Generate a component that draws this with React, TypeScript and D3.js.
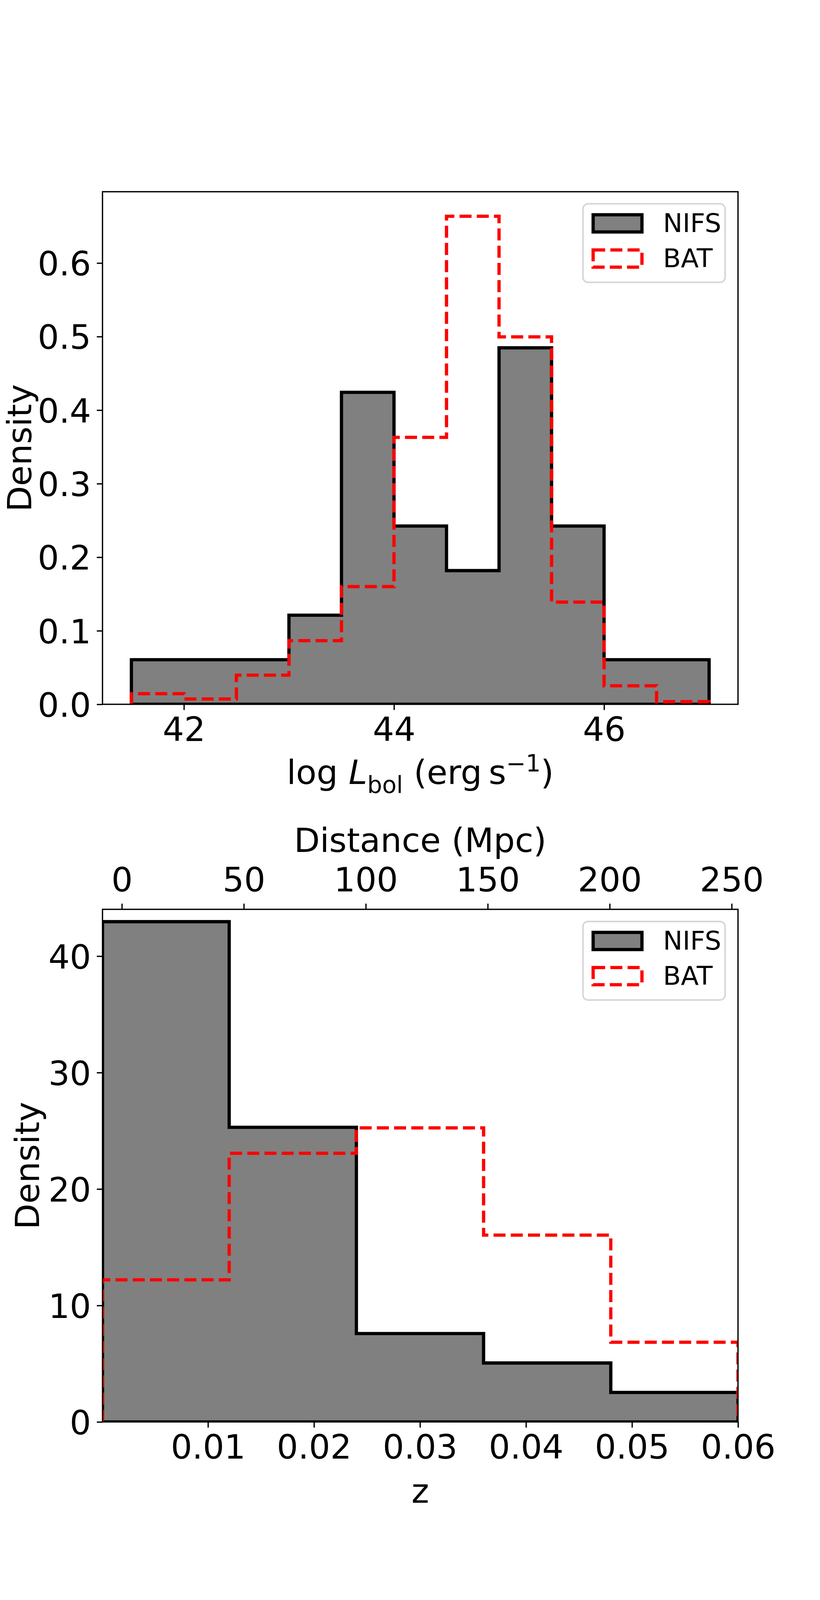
import React, { useEffect, useRef } from 'react';
import * as d3 from 'd3';

// luminosity histogram (bin edges + densities)
const lumBins = [41.5, 42, 42.5, 43, 43.5, 44, 44.5, 45, 45.5, 46, 46.5, 47];
const lumNifs = [0.0606, 0.0606, 0.0606, 0.1212, 0.4242, 0.2424, 0.1818, 0.4848, 0.2424, 0.0606, 0.0606];
const lumBat = [0.0144, 0.0072, 0.0396, 0.0865, 0.16, 0.363, 0.6636, 0.4996, 0.139, 0.0252, 0.0036];
const lumXTicks = [42, 44, 46];
const lumYTicks = [0, 0.1, 0.2, 0.3, 0.4, 0.5, 0.6];
const lumXDomain = [41.225, 47.275];
const lumYDomain = [0, 0.697];

// redshift histogram
const zBins = [0.00005, 0.012, 0.024, 0.036, 0.048, 0.06];
const zNifs = [42.96, 25.3, 7.59, 5.06, 2.53];
const zBat = [12.2, 23.07, 25.25, 16.04, 6.84];
const zXTicks = [0.01, 0.02, 0.03, 0.04, 0.05, 0.06];
const zYTicks = [0, 10, 20, 30, 40];
const zYDomain = [0, 44.02];
const distTicks = [0, 50, 100, 150, 200, 250];
const distDomain = [-7.93, 252.6];

const legendLabels = ['NIFS', 'BAT'];

const W = 2100;
const H = 4500;
// the photo only keeps the top ~4096px, so the vertical layout is squeezed to fit
const K = 4090 / 4500;
const FONT = '"DejaVu Sans", sans-serif';
const FS = 86;
const LEG_FS = 66.7;
const TICK = 14.6;
const LW = 8.33;
const SPINE = 3.33;
const left = 262.5;
const right = 1890;
const panels = [
  { top: 540 * K, bottom: 1983.75 * K },
  { top: 2561.25 * K, bottom: 4005 * K },
];

type Sel = d3.Selection<SVGGElement, unknown, null, undefined>;

function histPath(
  x: d3.ScaleLinear<number, number>,
  y: d3.ScaleLinear<number, number>,
  bins: number[],
  vals: number[],
) {
  const pts: [number, number][] = [[bins[0], 0]];
  vals.forEach((v, i) => pts.push([bins[i], v]));
  pts.push([bins[bins.length - 1], 0]);
  const line = d3
    .line<[number, number]>()
    .x(d => x(d[0]))
    .y(d => y(d[1]))
    .curve(d3.curveStepAfter);
  return line(pts) || '';
}

function styleAxis(ax: Sel, dy: string) {
  ax.attr('font-size', FS).attr('font-family', FONT);
  ax.select('.domain').remove();
  ax.selectAll('line').attr('stroke', '#000').attr('stroke-width', SPINE);
  ax.selectAll('text').attr('fill', '#000').attr('dy', dy);
}

function drawLegend(g: Sel, top: number) {
  const lg = g.append('g');
  lg.append('rect')
    .attr('x', 1493)
    .attr('y', top + 31)
    .attr('width', 364)
    .attr('height', 201)
    .attr('rx', 13)
    .attr('fill', 'white')
    .attr('fill-opacity', 0.8)
    .attr('stroke', '#cccccc')
    .attr('stroke-opacity', 0.8)
    .attr('stroke-width', 4);

  legendLabels.forEach((label, i) => {
    const ry = top + 59 + i * 90;
    const r = lg.append('rect')
      .attr('x', 1519)
      .attr('y', ry)
      .attr('width', 125)
      .attr('height', 44)
      .attr('stroke-width', LW)
      .attr('stroke-linejoin', 'miter');
    if (i === 0) {
      r.attr('fill', '#808080').attr('stroke', '#000');
    } else {
      r.attr('fill', 'none').attr('stroke', '#ff0000').attr('stroke-dasharray', '30.8,13.3');
    }
    lg.append('text')
      .attr('x', 1698)
      .attr('y', ry + 44)
      .attr('font-size', LEG_FS)
      .attr('font-family', FONT)
      .attr('fill', '#000')
      .text(label);
  });
}

export default function App() {
  const svgRef = useRef<SVGSVGElement>(null);

  useEffect(() => {
    document.body.style.margin = '0';
    const svg = d3.select(svgRef.current);
    svg.selectAll('*').remove();

    const root = svg.append('g') as unknown as Sel;

    // ---------- top panel: luminosity ----------
    {
      const p = panels[0];
      const x = d3.scaleLinear().domain(lumXDomain).range([left, right]);
      const y = d3.scaleLinear().domain(lumYDomain).range([p.bottom, p.top]);

      root.append('clipPath').attr('id', 'clip0')
        .append('rect').attr('x', left).attr('y', p.top)
        .attr('width', right - left).attr('height', p.bottom - p.top);

      const plot = root.append('g').attr('clip-path', 'url(#clip0)');
      plot.append('path')
        .attr('d', histPath(x, y, lumBins, lumNifs) + 'Z')
        .attr('fill', '#808080')
        .attr('stroke', '#000')
        .attr('stroke-width', LW)
        .attr('stroke-linejoin', 'miter');
      plot.append('path')
        .attr('d', histPath(x, y, lumBins, lumBat))
        .attr('fill', 'none')
        .attr('stroke', '#ff0000')
        .attr('stroke-width', LW)
        .attr('stroke-dasharray', '30.8,13.3')
        .attr('stroke-linejoin', 'miter');

      root.append('rect')
        .attr('x', left).attr('y', p.top)
        .attr('width', right - left).attr('height', p.bottom - p.top)
        .attr('fill', 'none').attr('stroke', '#000').attr('stroke-width', SPINE);

      const xa = root.append('g').attr('transform', `translate(0,${p.bottom})`)
        .call(d3.axisBottom(x).tickValues(lumXTicks).tickSize(TICK).tickPadding(TICK).tickFormat(d3.format('d')));
      styleAxis(xa, '65');
      const ya = root.append('g').attr('transform', `translate(${left},0)`)
        .call(d3.axisLeft(y).tickValues(lumYTicks).tickSize(TICK).tickPadding(TICK).tickFormat(d3.format('.1f')));
      styleAxis(ya, '0.364em');

      root.append('text')
        .attr('transform', `translate(80,${(p.top + p.bottom) / 2}) rotate(-90)`)
        .attr('text-anchor', 'middle')
        .attr('font-size', FS).attr('font-family', FONT)
        .text('Density');

      // log L_bol (erg s^-1)
      const xl = root.append('text')
        .attr('x', (left + right) / 2).attr('y', p.bottom + 204)
        .attr('text-anchor', 'middle')
        .attr('font-size', FS).attr('font-family', FONT);
      xl.append('tspan').text('log ');
      xl.append('tspan').attr('font-style', 'italic').text('L');
      xl.append('tspan').attr('font-size', 60).attr('dy', 23).text('bol');
      xl.append('tspan').attr('dy', -23).text(' (erg\u2009s');
      xl.append('tspan').attr('font-size', 60).attr('dy', -32).text('\u22121');
      xl.append('tspan').attr('dy', 32).text(')');

      drawLegend(root, p.top);
    }

    // ---------- bottom panel: redshift ----------
    {
      const p = panels[1];
      const x = d3.scaleLinear().domain([zBins[0], zBins[zBins.length - 1]]).range([left, right]);
      const y = d3.scaleLinear().domain(zYDomain).range([p.bottom, p.top]);
      const xd = d3.scaleLinear().domain(distDomain).range([left, right]);

      root.append('clipPath').attr('id', 'clip1')
        .append('rect').attr('x', left).attr('y', p.top)
        .attr('width', right - left).attr('height', p.bottom - p.top);

      const plot = root.append('g').attr('clip-path', 'url(#clip1)');
      plot.append('path')
        .attr('d', histPath(x, y, zBins, zNifs) + 'Z')
        .attr('fill', '#808080')
        .attr('stroke', '#000')
        .attr('stroke-width', LW)
        .attr('stroke-linejoin', 'miter');
      plot.append('path')
        .attr('d', histPath(x, y, zBins, zBat))
        .attr('fill', 'none')
        .attr('stroke', '#ff0000')
        .attr('stroke-width', LW)
        .attr('stroke-dasharray', '30.8,13.3')
        .attr('stroke-linejoin', 'miter');

      root.append('rect')
        .attr('x', left).attr('y', p.top)
        .attr('width', right - left).attr('height', p.bottom - p.top)
        .attr('fill', 'none').attr('stroke', '#000').attr('stroke-width', SPINE);

      const xa = root.append('g').attr('transform', `translate(0,${p.bottom})`)
        .call(d3.axisBottom(x).tickValues(zXTicks).tickSize(TICK).tickPadding(TICK).tickFormat(d3.format('.2f')));
      styleAxis(xa, '65');
      const ta = root.append('g').attr('transform', `translate(0,${p.top})`)
        .call(d3.axisTop(xd).tickValues(distTicks).tickSize(TICK).tickPadding(TICK).tickFormat(d3.format('d')));
      styleAxis(ta, '-17');
      const ya = root.append('g').attr('transform', `translate(${left},0)`)
        .call(d3.axisLeft(y).tickValues(zYTicks).tickSize(TICK).tickPadding(TICK).tickFormat(d3.format('d')));
      styleAxis(ya, '0.364em');

      root.append('text')
        .attr('transform', `translate(100,${(p.top + p.bottom) / 2}) rotate(-90)`)
        .attr('text-anchor', 'middle')
        .attr('font-size', FS).attr('font-family', FONT)
        .text('Density');

      root.append('text')
        .attr('x', (left + right) / 2).attr('y', p.bottom + 207)
        .attr('text-anchor', 'middle')
        .attr('font-size', FS).attr('font-family', FONT)
        .text('z');

      root.append('text')
        .attr('x', (left + right) / 2).attr('y', p.top - 147)
        .attr('text-anchor', 'middle')
        .attr('font-size', FS).attr('font-family', FONT)
        .text('Distance (Mpc)');

      drawLegend(root, p.top);
    }
  }, []);

  return (
    <svg ref={svgRef} width={W} height={H} style={{ display: 'block', background: '#fff' }}></svg>
  );
}
